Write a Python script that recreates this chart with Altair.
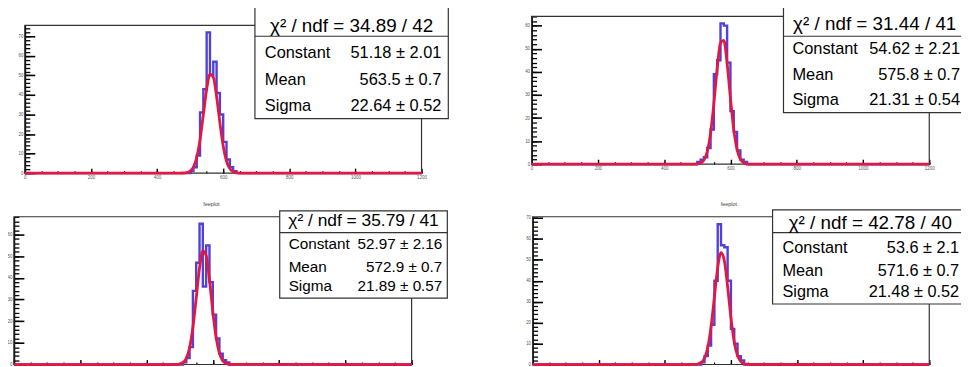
import altair as alt
import pandas as pd

# ---------------- data ----------------
bin_left = [480, 490, 500, 510, 520, 530, 540, 550, 560, 570, 580, 590, 600, 610, 620, 630, 640, 650]
hist_p1 = [0, 0, 1, 3, 9, 31, 43, 72, 50, 57, 41, 30, 16, 7, 3, 1, 0, 0]
hist_p2 = [0, 0, 1, 2, 3, 7, 15, 39, 45, 61, 60, 44, 23, 14, 6, 2, 1, 0]
hist_p3 = [0, 0, 0, 1, 3, 8, 34, 47, 65, 36, 55, 38, 23, 12, 5, 2, 1, 0]
hist_p4 = [0, 0, 0, 1, 4, 9, 19, 40, 67, 57, 56, 40, 17, 10, 4, 2, 0, 0]

curve_x = [0, 470, 480, 490, 500, 510, 520, 530, 540, 550, 560, 570, 580, 590,
           600, 610, 620, 630, 640, 650, 660, 1200]
fit_p1 = [0, 0.01, 0.06, 0.26, 1.0, 3.1, 8.1, 17.1, 29.9, 42.8, 50.6, 49.1, 39.2, 25.8,
          13.9, 6.2, 2.3, 0.7, 0.2, 0.03, 0.0, 0]
fit_p2 = [0, 0.0, 0.0, 0.02, 0.10, 0.46, 1.77, 5.43, 13.3, 26.2, 41.5, 52.6, 53.6, 43.7,
          28.7, 15.1, 6.36, 2.15, 0.58, 0.13, 0.02, 0]
fit_p3 = [0, 0.0, 0.01, 0.04, 0.21, 0.85, 2.86, 7.77, 17.1, 30.6, 44.5, 52.5, 50.3, 39.0,
          24.6, 12.6, 5.23, 1.76, 0.48, 0.11, 0.02, 0]
fit_p4 = [0, 0.0, 0.01, 0.04, 0.21, 0.88, 3.0, 8.2, 18.2, 32.3, 46.3, 53.5, 49.7, 37.1,
          22.4, 10.8, 4.24, 1.33, 0.34, 0.07, 0.01, 0]

chi2_text = ["χ² / ndf = 34.89 / 42", "χ² / ndf = 31.44 / 41",
             "χ² / ndf = 35.79 / 41", "χ² / ndf = 42.78 / 40"]
param_names = ["Constant", "Mean", "Sigma"]
const_vals = ["51.18 ± 2.01", "54.62 ± 2.21", "52.97 ± 2.16", "53.6 ± 2.1"]
mean_vals = ["563.5 ± 0.7", "575.8 ± 0.7", "572.9 ± 0.7", "571.6 ± 0.7"]
sigma_vals = ["22.64 ± 0.52", "21.31 ± 0.54", "21.89 ± 0.57", "21.48 ± 0.52"]
panel_titles = ["", "", "feeplot", "feeplot"]

x_major = [0, 200, 400, 600, 800, 1000, 1200]
x_minor = list(range(0, 1201, 50))
y_max = [75.6, 64.0, 68.2, 70.6]
y_major = [list(range(0, 71, 10)), list(range(0, 61, 10)),
           list(range(0, 61, 10)), list(range(0, 71, 10))]

# ---------------- layout (pixels) ----------------
W, H = 961, 359
FONT = "Liberation Sans"
geom = [
    dict(xr=[17, 417], yr=[165, 16], xlabels=True),
    dict(xr=[528, 929], yr=[156, 7], xlabels=True),
    dict(xr=[6, 407], yr=[358, 209], xlabels=False),
    dict(xr=[529, 929], yr=[358, 209], xlabels=False),
]
boxes = [
    dict(x0=249, x1=444, y0=-10, y1=110, sep=27, chi=22.7, rows=[49.3, 76, 102],
         lx=259, rx=437, fchi=19, fs=16.5, tx=0, ty=0),
    dict(x0=782, x1=966, y0=-10, y1=104, sep=27, chi=21, rows=[45.3, 71, 96],
         lx=791, rx=960, fchi=19, fs=16.5, tx=0, ty=0),
    dict(x0=274, x1=443, y0=203, y1=291, sep=225, chi=218.7, rows=[242, 264.3, 284.3],
         lx=283, rx=438, fchi=17.5, fs=15.4, tx=205, ty=198),
    dict(x0=771, x1=968, y0=202, y1=297, sep=225, chi=221, rows=[245.3, 268.7, 290.3],
         lx=781, rx=959, fchi=19, fs=16.4, tx=727, ty=198),
]

HIST_COLOR = "#5040dc"
FIT_COLOR = "#e3173f"


def make_panel(i, hist, fit):
    g = geom[i]
    b = boxes[i]
    xr, yr = g["xr"], g["yr"]
    ymax = y_max[i]
    ymaj = y_major[i]
    ymin = [v for v in range(0, int(ymax) + 1, 2)]
    xs = alt.Scale(domain=[0, 1200], range=xr, nice=False, zero=False)
    ys = alt.Scale(domain=[0, ymax], range=yr, nice=False, zero=False)

    # frame + tick labels
    frame_df = pd.DataFrame({"x0": [0], "x1": [1200], "y0": [0], "y1": [ymax]})
    frame = alt.Chart(frame_df).mark_rect(
        fill="white", fillOpacity=0, stroke="#333333", strokeWidth=1.2
    ).encode(
        x=alt.X("x0:Q", scale=xs, title=None, axis=alt.Axis(
            orient="bottom", offset=yr[0] - H, values=x_major, ticks=False,
            labels=g["xlabels"],
            domain=False, grid=False, labelFontSize=4.5, labelPadding=1.5,
            labelColor="#555555", labelFlush=False, labelOverlap=False,
            labelFont=FONT, format="d")),
        x2="x1:Q",
        y=alt.Y("y0:Q", scale=ys, title=None, axis=alt.Axis(
            orient="left", offset=-xr[0], values=ymaj, ticks=False,
            domain=False, grid=False, labelFontSize=4.5, labelPadding=2,
            labelColor="#555555", labelFlush=False, labelOverlap=False,
            labelFont=FONT, format="d")),
        y2="y1:Q",
    )

    # histogram (step line) with major inward ticks
    hx = [0] + bin_left + [660, 1200]
    hy = [0] + hist + [0, 0]
    hist_df = pd.DataFrame({"x": hx, "y": hy})
    hline = alt.Chart(hist_df).mark_line(
        interpolate="step-after", color=HIST_COLOR, strokeWidth=2.4
    ).encode(
        x=alt.X("x:Q", scale=xs, title=None, axis=alt.Axis(
            orient="top", offset=-yr[0], values=x_major, labels=False,
            domain=False, grid=False, tickSize=5, tickColor="black", tickWidth=1.4)),
        y=alt.Y("y:Q", scale=ys, title=None, axis=alt.Axis(
            orient="right", offset=xr[0] - W, values=ymaj, labels=False,
            domain=True, domainColor="black", domainWidth=1.6,
            grid=False, tickSize=10, tickColor="black", tickWidth=1.6)),
    )

    # gaussian fit with minor inward ticks
    fit_df = pd.DataFrame({"x": curve_x, "y": fit})
    fline = alt.Chart(fit_df).mark_line(
        interpolate="monotone", color=FIT_COLOR, strokeWidth=2.8
    ).encode(
        x=alt.X("x:Q", scale=xs, title=None, axis=alt.Axis(
            orient="top", offset=-yr[0], values=x_minor, labels=False,
            domain=False, grid=False, tickSize=2.5, tickColor="black", tickWidth=1.2)),
        y=alt.Y("y:Q", scale=ys, title=None, axis=alt.Axis(
            orient="right", offset=xr[0] - W, values=ymin, labels=False,
            domain=False, grid=False, tickSize=5, tickColor="black", tickWidth=1.3)),
    )

    one = pd.DataFrame({"a": [0]})
    box = alt.Chart(one).mark_rect(
        fill="white", stroke="#333333", strokeWidth=1.2
    ).encode(
        x=alt.value(b["x0"]), x2=alt.value(b["x1"]),
        y=alt.value(b["y0"]), y2=alt.value(b["y1"]),
    )
    sep = alt.Chart(one).mark_rule(color="#333333", strokeWidth=1.2).encode(
        x=alt.value(b["x0"]), x2=alt.value(b["x1"]), y=alt.value(b["sep"])
    )
    chi = alt.Chart(pd.DataFrame({"t": [chi2_text[i]]})).mark_text(
        font=FONT, fontSize=b["fchi"], align="center", baseline="alphabetic", color="black"
    ).encode(
        x=alt.value((b["x0"] + b["x1"]) / 2), y=alt.value(b["chi"]), text="t:N"
    )
    rows_df = pd.DataFrame({
        "name": param_names,
        "val": [const_vals[i], mean_vals[i], sigma_vals[i]],
        "py": b["rows"],
    })
    names = alt.Chart(rows_df).mark_text(
        font=FONT, fontSize=b["fs"], align="left", baseline="alphabetic", color="black"
    ).encode(
        x=alt.value(b["lx"]), y=alt.Y("py:Q", scale=None), text="name:N"
    )
    vals = alt.Chart(rows_df).mark_text(
        font=FONT, fontSize=b["fs"], align="right", baseline="alphabetic", color="black"
    ).encode(
        x=alt.value(b["rx"]), y=alt.Y("py:Q", scale=None), text="val:N"
    )
    layers = [frame, hline, fline, box, sep, chi, names, vals]
    if panel_titles[i]:
        title = alt.Chart(pd.DataFrame({"t": [panel_titles[i]]})).mark_text(
            font=FONT, fontSize=5.5, align="center", baseline="alphabetic", color="#444444"
        ).encode(x=alt.value(b["tx"]), y=alt.value(b["ty"]), text="t:N")
        layers.append(title)
    return alt.layer(*layers).resolve_axis(x="independent", y="independent")


panels = [
    make_panel(0, hist_p1, fit_p1),
    make_panel(1, hist_p2, fit_p2),
    make_panel(2, hist_p3, fit_p3),
    make_panel(3, hist_p4, fit_p4),
]

chart = alt.layer(*panels).resolve_scale(
    x="independent", y="independent"
).properties(
    width=W, height=H, padding=0,
    autosize=alt.AutoSizeParams(type="none"),
).configure_view(strokeWidth=0).configure_axis(grid=False)

chart.save("out.html", embed_options={"renderer": "svg", "actions": False})
